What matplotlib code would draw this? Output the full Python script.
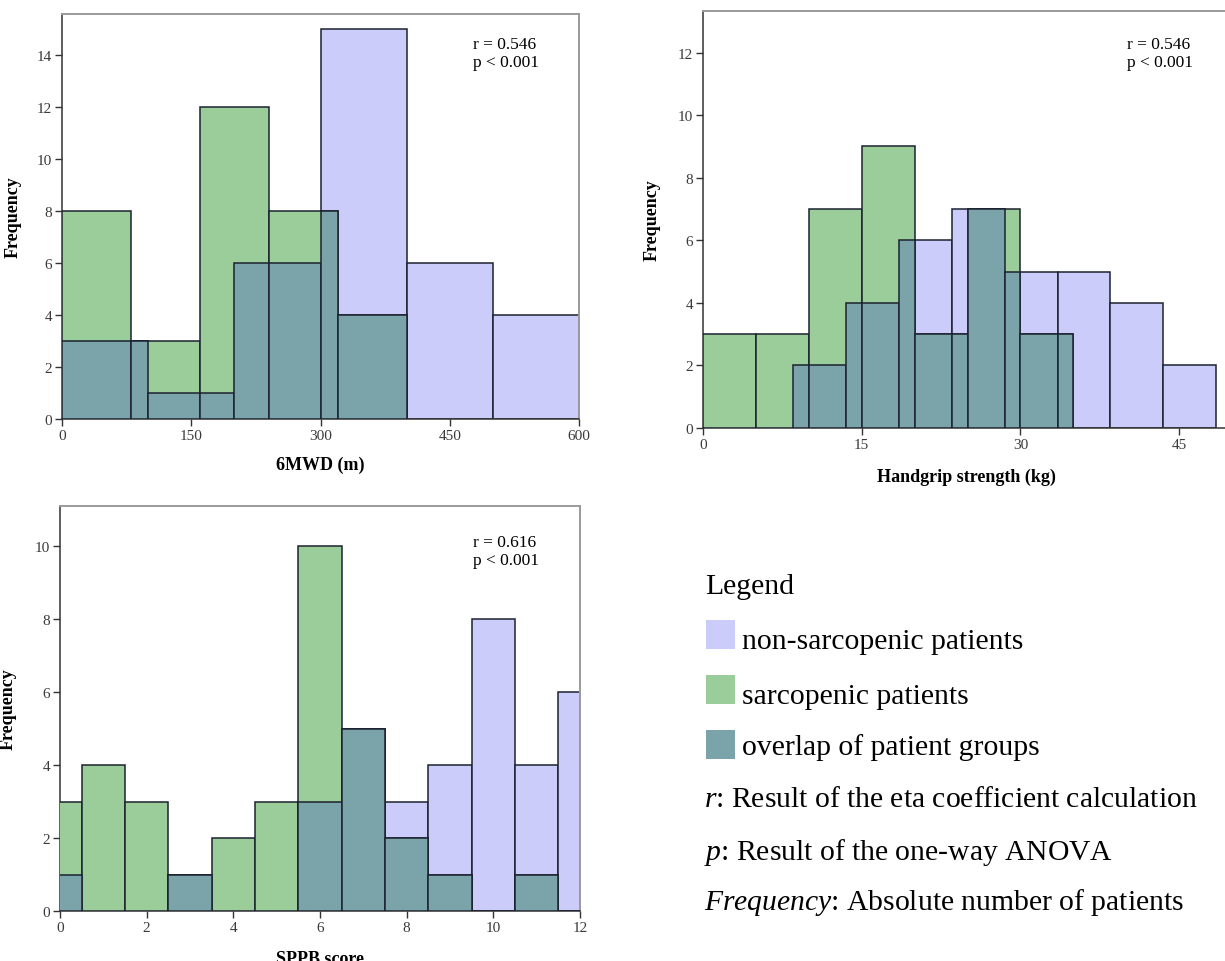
import numpy as np
import matplotlib
matplotlib.use("Agg")
import matplotlib.pyplot as plt
from matplotlib.patches import Rectangle

plt.rcParams['font.family'] = ['Liberation Serif', 'DejaVu Serif']
plt.rcParams['mathtext.fontset'] = 'custom'
plt.rcParams['mathtext.rm'] = 'Liberation Serif'
plt.rcParams['mathtext.it'] = 'Liberation Serif:italic'

# ---------------- data ----------------
# 6MWD (m)
mwd_edges_non = [0, 100, 200, 300, 400, 500, 600]
mwd_counts_non = [3, 1, 6, 15, 6, 4]
mwd_edges_sar = [0, 80, 160, 240, 320, 400]
mwd_counts_sar = [8, 3, 12, 8, 4]
mwd_ticks = [0, 150, 300, 450, 600]
mwd_yticks = [0, 2, 4, 6, 8, 10, 12, 14]

# Handgrip strength (kg)
hg_edges_non = [8.5, 13.5, 18.5, 23.5, 28.5, 33.5, 38.5, 43.5, 48.5]
hg_counts_non = [2, 4, 6, 7, 5, 5, 4, 2]
hg_edges_sar = [0, 5, 10, 15, 20, 25, 30, 35]
hg_counts_sar = [3, 3, 7, 9, 3, 7, 3]
hg_ticks = [0, 15, 30, 45]
hg_yticks = [0, 2, 4, 6, 8, 10, 12]

# SPPB score
sppb_scores = [0, 1, 2, 3, 4, 5, 6, 7, 8, 9, 10, 11, 12]
sppb_counts_non = [1, 0, 0, 1, 0, 0, 3, 5, 3, 4, 8, 4, 6]
sppb_counts_sar = [3, 4, 3, 1, 2, 3, 10, 5, 2, 1, 0, 1, 0]
sppb_ticks = [0, 2, 4, 6, 8, 10, 12]
sppb_yticks = [0, 2, 4, 6, 8, 10]

stats_text = ["r = 0.546\np < 0.001", "r = 0.546\np < 0.001", "r = 0.616\np < 0.001"]
xlabels = ["6MWD (m)", "Handgrip strength (kg)", "SPPB score"]

legend_labels = ["non-sarcopenic patients", "sarcopenic patients", "overlap of patient groups"]
notes = [r"$\mathit{r}$: Result of the eta coefficient calculation",
         r"$\mathit{p}$: Result of the one-way ANOVA",
         r"$\mathit{Frequency}$: Absolute number of patients"]

C_NON = '#CCCCFB'
C_SAR = '#9ACD99'
C_OVL = '#7BA3AA'
EDGE = '#1c2230'

W, H = 1225, 962
fig = plt.figure(figsize=(W / 100, H / 100), dpi=100)


def px_axes(left, top, right, bottom):
    return fig.add_axes([left / W, 1 - bottom / H, (right - left) / W, (bottom - top) / H])


def step_height(edges, counts, x):
    edges = np.asarray(edges, float)
    for i in range(len(counts)):
        if edges[i] <= x < edges[i + 1]:
            return counts[i]
    return 0


def draw_hist(ax, edges_non, counts_non, edges_sar, counts_sar):
    en = np.asarray(edges_non, float)
    es = np.asarray(edges_sar, float)
    ax.bar(en[:-1], counts_non, width=np.diff(en), align='edge', color=C_NON,
           edgecolor=EDGE, linewidth=1.1, zorder=2)
    ax.bar(es[:-1], counts_sar, width=np.diff(es), align='edge', color=C_SAR,
           edgecolor=EDGE, linewidth=1.1, zorder=3)
    union = np.unique(np.concatenate([en, es]))
    lefts, widths, heights = [], [], []
    for a, b in zip(union[:-1], union[1:]):
        m = 0.5 * (a + b)
        h = min(step_height(en, counts_non, m), step_height(es, counts_sar, m))
        if h > 0:
            lefts.append(a); widths.append(b - a); heights.append(h)
    ax.bar(lefts, heights, width=widths, align='edge', color=C_OVL,
           edgecolor=EDGE, linewidth=1.1, zorder=4)


def style(ax, xticks, yticks, xlim, ylim, xlabel, stat, stat_xy, xlab_xy, ylab_x):
    ax.set_xlim(*xlim)
    ax.set_ylim(*ylim)
    ax.set_xticks(xticks)
    ax.set_yticks(yticks)
    ax.tick_params(direction='out', length=5, width=1, labelsize=11,
                   labelcolor='#3a3a3a', color='#333333', pad=2)
    for s in ['left', 'bottom']:
        ax.spines[s].set_color('#333333')
        ax.spines[s].set_linewidth(1.1)
    for s in ['top', 'right']:
        ax.spines[s].set_color('#9a9a9a')
        ax.spines[s].set_linewidth(1.4)
    ax.set_xlabel(xlabel, fontsize=13, fontweight='bold')
    ax.xaxis.set_label_coords(*xlab_xy)
    ax.set_ylabel('Frequency', fontsize=13, fontweight='bold')
    ax.yaxis.set_label_coords(ylab_x, 0.5)
    ax.text(stat_xy[0], stat_xy[1], stat, transform=ax.transAxes, fontsize=12.5,
            va='top', ha='left', linespacing=1.15, zorder=6)


# top-left: 6MWD
ax1 = px_axes(62, 15, 579, 420)
draw_hist(ax1, mwd_edges_non, mwd_counts_non, mwd_edges_sar, mwd_counts_sar)
style(ax1, mwd_ticks, mwd_yticks, (0, 600), (0, 15.58), xlabels[0], stats_text[0],
      (0.795, 0.945), (0.5, -0.09), -0.079)

# top-right: Handgrip
ax2 = px_axes(703, 12, 1230, 429)
draw_hist(ax2, hg_edges_non, hg_counts_non, hg_edges_sar, hg_counts_sar)
style(ax2, hg_ticks, hg_yticks, (0, 49.8), (0, 13.33), xlabels[1], stats_text[1],
      (0.805, 0.94), (0.5, -0.096), -0.081)
ax2.spines['right'].set_visible(False)

# bottom-left: SPPB
ax3 = px_axes(60, 507, 580, 912)
sc = np.asarray(sppb_scores, float)
sppb_edges = np.concatenate([sc - 0.5, [sc[-1] + 0.5]])
draw_hist(ax3, sppb_edges, sppb_counts_non, sppb_edges, sppb_counts_sar)
style(ax3, sppb_ticks, sppb_yticks, (0, 12), (0, 11.11), xlabels[2], stats_text[2],
      (0.794, 0.93), (0.5, -0.097), -0.083)

# ---------------- legend area ----------------
fs_leg = 21.3
fig.text(705 / W, 1 - 587 / H, "Legend", fontsize=fs_leg, va='center', ha='left')
sw_colors = [C_NON, C_SAR, C_OVL]
sw_tops = [621, 676, 731]
txt_y = [642, 697, 748]
for col, top, ty, lab in zip(sw_colors, sw_tops, txt_y, legend_labels):
    fig.add_artist(Rectangle((706 / W, 1 - (top + 29) / H), 29 / W, 29 / H,
                             transform=fig.transFigure, facecolor=col, edgecolor='none'))
    fig.text(742 / W, 1 - ty / H, lab, fontsize=fs_leg, va='center', ha='left')
for ty, note in zip([800, 853, 903], notes):
    fig.text(704 / W, 1 - ty / H, note, fontsize=fs_leg, va='center', ha='left')

fig.savefig("out.png", dpi=100)
